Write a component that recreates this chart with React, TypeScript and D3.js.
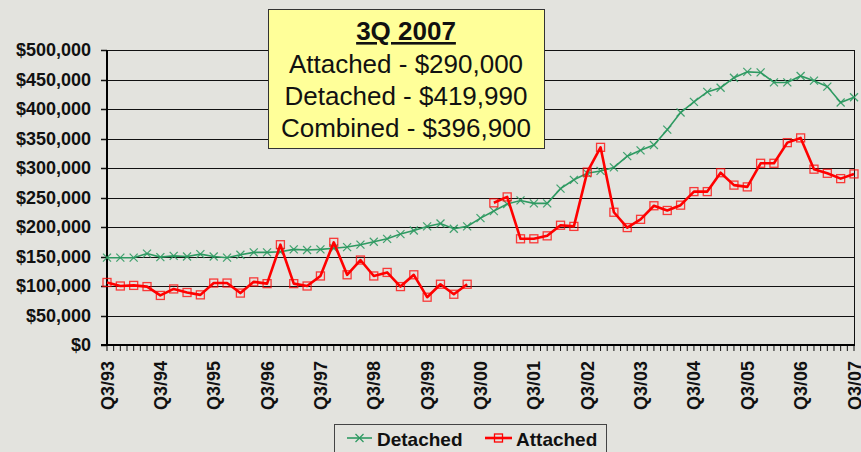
import React from "react";
import * as d3 from "d3";

const tickLabels = ["Q3/93","Q3/94","Q3/95","Q3/96","Q3/97","Q3/98","Q3/99","Q3/00","Q3/01","Q3/02","Q3/03","Q3/04","Q3/05","Q3/06","Q3/07"];

const detached: number[] = [
  148000,148000,148000,155000,149000,151000,150000,154000,150000,148000,
  153000,157000,157000,158000,162000,161000,162000,164000,166000,170000,
  175000,180000,188000,194000,201000,206000,197000,201000,215000,227000,
  239000,245000,240000,240000,265000,280000,291000,295000,301000,320000,
  330000,339000,365000,394000,412000,429000,436000,453000,463000,462000,
  445000,445000,456000,448000,438000,411000,419990];

const attached: (number | null)[] = [
  106000,100000,101000,99000,84000,95000,89000,85000,105000,105000,
  88000,107000,104000,170000,104000,100000,117000,174000,119000,144000,
  117000,123000,99000,119000,81000,103000,86000,103000,null,241000,
  251000,180000,180000,185000,203000,201000,293000,335000,225000,199000,
  213000,236000,228000,237000,260000,260000,292000,271000,268000,308000,
  308000,343000,351000,298000,291000,282000,290000];

const yTicks = [0,50000,100000,150000,200000,250000,300000,350000,400000,450000,500000];

const noteTitle = "3Q 2007";
const noteLines = ["Attached - $290,000","Detached - $419,990","Combined - $396,900"];

const W = 861, H = 452;
const L = 107, R = 854, T = 50, B = 345;
const FONT = "Arial, 'Liberation Sans', sans-serif";
const GREEN = "#2E9A62";
const RED = "#FF0000";
const BG = "#E3E3DE";

export default function App() {
  const n = detached.length;
  const x = d3.scaleLinear().domain([0, n - 1]).range([L, R]);
  const y = d3.scaleLinear().domain([0, 500000]).range([B, T]);
  const fmt = (v: number) => "$" + d3.format(",")(v);

  const lineD = d3.line<number>().x((_, i) => x(i)).y(v => y(v));
  const lineA = d3.line<number | null>()
    .defined(v => v !== null)
    .x((_, i) => x(i)).y(v => y(v as number));

  const minorTicks = d3.range(0, (n - 1) * 2 + 1).map(k => x(k / 2));

  return (
    <svg width={W} height={H} style={{ position: "absolute", left: 0, top: 0, background: BG }} fontFamily={FONT}>
      <rect x={0} y={0} width={W} height={H} fill={BG} />
      {/* gridlines */}
      {yTicks.map(t => (
        <line key={t} x1={L} x2={R} y1={Math.round(y(t)) + 0.5} y2={Math.round(y(t)) + 0.5} stroke="#111" strokeWidth={1} />
      ))}
      {/* right border */}
      <line x1={R + 0.5} x2={R + 0.5} y1={T} y2={B} stroke="#111" strokeWidth={1} />
      {/* y ticks and labels */}
      {yTicks.map(t => (
        <g key={"yl" + t}>
          <line x1={101} x2={L} y1={Math.round(y(t)) + 0.5} y2={Math.round(y(t)) + 0.5} stroke="#111" strokeWidth={1.5} />
          <text x={91} y={y(t)} dy="0.36em" textAnchor="end" fontSize={18} fontWeight="bold" fill="#111">{fmt(t)}</text>
        </g>
      ))}
      {/* x minor ticks */}
      {minorTicks.map((mx, i) => (
        <line key={"mt" + i} x1={mx} x2={mx} y1={B} y2={B + 6} stroke="#111" strokeWidth={1} />
      ))}
      {/* axes */}
      <line x1={L} x2={L} y1={T} y2={B + 1} stroke="#000" strokeWidth={2} />
      <line x1={L - 6} x2={R + 1} y1={B} y2={B} stroke="#000" strokeWidth={2} />
      {/* x labels */}
      {tickLabels.map((lab, i) => (
        <text key={lab} transform={`translate(${x(i * 4) + 6.5},${361}) rotate(-90)`} textAnchor="end" fontSize={18} fontWeight="bold" fill="#111">{lab}</text>
      ))}
      {/* detached line */}
      <path d={lineD(detached) || ""} fill="none" stroke={GREEN} strokeWidth={1.6} />
      {detached.map((v, i) => (
        <g key={"dm" + i} transform={`translate(${x(i)},${y(v)})`} stroke={GREEN} strokeWidth={1.2} opacity={0.9}>
          <line x1={-4} y1={-4} x2={4} y2={4} />
          <line x1={-4} y1={4} x2={4} y2={-4} />
        </g>
      ))}
      {/* attached line */}
      <path d={lineA(attached) || ""} fill="none" stroke={RED} strokeWidth={2.6} strokeLinejoin="round" />
      {attached.map((v, i) => v === null ? null : (
        <rect key={"am" + i} x={x(i) - 4} y={y(v) - 4} width={8} height={8} fill="none" stroke={RED} strokeWidth={1.3} opacity={0.75} />
      ))}
      {/* annotation box */}
      <rect x={268.5} y={9.5} width={276} height={139} fill="#FFFF99" stroke="#333" strokeWidth={1} />
      <text x={406} y={40} textAnchor="middle" fontSize={26} fontWeight="bold" fill="#111" textDecoration="underline">{noteTitle}</text>
      {noteLines.map((s, i) => (
        <text key={s} x={406} y={73 + i * 31.8} textAnchor="middle" fontSize={26} fill="#111">{s}</text>
      ))}
      {/* legend */}
      <rect x={334.5} y={424.5} width={272} height={34} fill={BG} stroke="#444" strokeWidth={1} />
      <line x1={347} x2={372} y1={438} y2={438} stroke={GREEN} strokeWidth={1.6} />
      <g transform="translate(359.5,438)" stroke={GREEN} strokeWidth={1.2}>
        <line x1={-4} y1={-4} x2={4} y2={4} />
        <line x1={-4} y1={4} x2={4} y2={-4} />
      </g>
      <text x={377} y={446} fontSize={19} fontWeight="bold" fill="#111">Detached</text>
      <line x1={485} x2={512} y1={438} y2={438} stroke={RED} strokeWidth={2.6} />
      <rect x={494.5} y={434} width={8} height={8} fill="none" stroke={RED} strokeWidth={1.3} />
      <text x={516} y={446} fontSize={19} fontWeight="bold" fill="#111">Attached</text>
    </svg>
  );
}
